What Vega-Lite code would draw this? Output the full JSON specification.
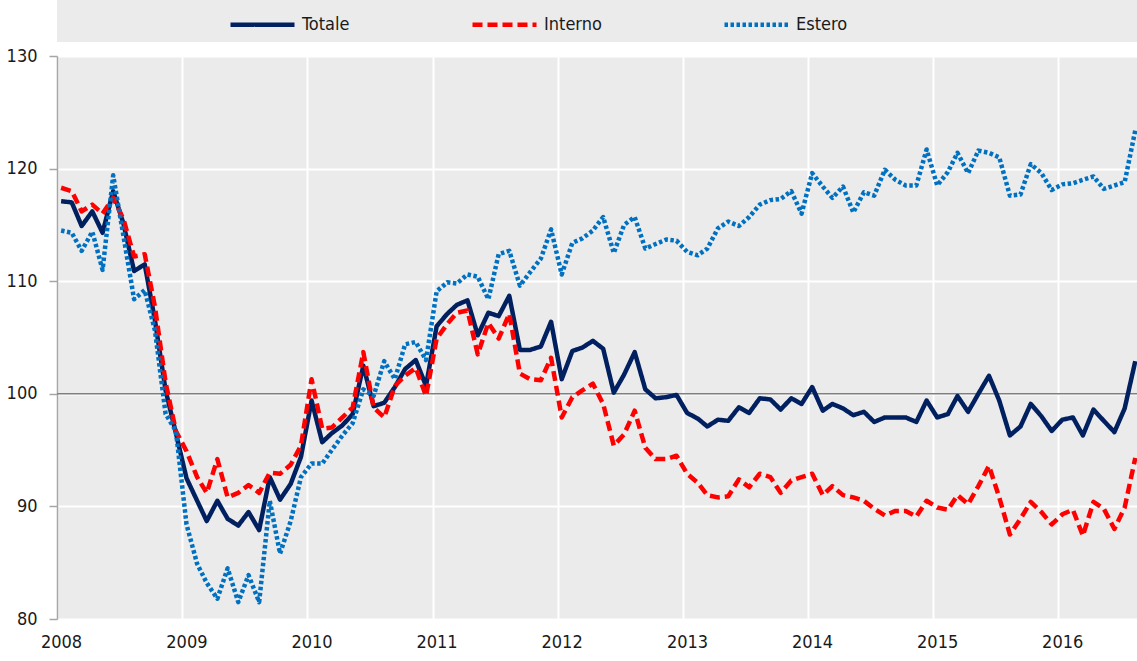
{
  "$schema": "https://vega.github.io/schema/vega-lite/v6.json",
  "width": 1080,
  "height": 563,
  "autosize": {"type": "none"},
  "padding": {"left": 57, "top": 56, "right": 0, "bottom": 42},
  "background": "white",
  "config": {
    "font": "DejaVu Sans Condensed, Liberation Sans, sans-serif",
    "view": {"fill": "#EBEBEB", "stroke": null},
    "axis": {"labelFont": "DejaVu Sans Condensed, Liberation Sans, sans-serif", "labelFontSize": 18, "labelColor": "#1a1a1a", "gridColor": "white", "gridWidth": 2, "title": null}
  },
  "layer": [
    {
      "data": {"values": [{"ref": "base"}]},
      "mark": {"type": "rule", "color": "#808080", "strokeWidth": 1.5},
      "encoding": {"y": {"datum": 100, "type": "quantitative", "scale": {"domain": [80, 130], "nice": false, "zero": false}}}
    },
    {
      "data": {"values": [
        {"date": "2008-01-13", "Totale": 117.1, "Interno": 118.3, "Estero": 114.5},
        {"date": "2008-02-13", "Totale": 117.0, "Interno": 118.0, "Estero": 114.3},
        {"date": "2008-03-13", "Totale": 114.9, "Interno": 116.2, "Estero": 112.7},
        {"date": "2008-04-13", "Totale": 116.2, "Interno": 116.8, "Estero": 114.4},
        {"date": "2008-05-13", "Totale": 114.3, "Interno": 116.0, "Estero": 111.0},
        {"date": "2008-06-13", "Totale": 118.0, "Interno": 117.4, "Estero": 119.4},
        {"date": "2008-07-13", "Totale": 115.1, "Interno": 115.5, "Estero": 114.0},
        {"date": "2008-08-13", "Totale": 110.9, "Interno": 112.2, "Estero": 108.4},
        {"date": "2008-09-13", "Totale": 111.5, "Interno": 112.4, "Estero": 109.2},
        {"date": "2008-10-13", "Totale": 106.5, "Interno": 107.7, "Estero": 105.6},
        {"date": "2008-11-13", "Totale": 100.3, "Interno": 101.0, "Estero": 98.2},
        {"date": "2008-12-13", "Totale": 96.5, "Interno": 96.7, "Estero": 96.7},
        {"date": "2009-01-13", "Totale": 92.5, "Interno": 94.9, "Estero": 88.4},
        {"date": "2009-02-13", "Totale": 90.5, "Interno": 92.6, "Estero": 84.9},
        {"date": "2009-03-13", "Totale": 88.7, "Interno": 91.2, "Estero": 83.2},
        {"date": "2009-04-13", "Totale": 90.5, "Interno": 94.2, "Estero": 81.8},
        {"date": "2009-05-13", "Totale": 88.9, "Interno": 90.8, "Estero": 84.5},
        {"date": "2009-06-13", "Totale": 88.3, "Interno": 91.2, "Estero": 81.5},
        {"date": "2009-07-13", "Totale": 89.5, "Interno": 91.9, "Estero": 83.9},
        {"date": "2009-08-13", "Totale": 87.9, "Interno": 91.2, "Estero": 81.5},
        {"date": "2009-09-13", "Totale": 92.6, "Interno": 93.0, "Estero": 90.5},
        {"date": "2009-10-13", "Totale": 90.6, "Interno": 92.9, "Estero": 85.8},
        {"date": "2009-11-13", "Totale": 92.0, "Interno": 93.7, "Estero": 88.7},
        {"date": "2009-12-13", "Totale": 94.4, "Interno": 95.4, "Estero": 92.6},
        {"date": "2010-01-13", "Totale": 99.4, "Interno": 101.3, "Estero": 93.8},
        {"date": "2010-02-13", "Totale": 95.7, "Interno": 96.9, "Estero": 93.8},
        {"date": "2010-03-13", "Totale": 96.5, "Interno": 97.0, "Estero": 95.0},
        {"date": "2010-04-13", "Totale": 97.2, "Interno": 97.9, "Estero": 96.3},
        {"date": "2010-05-13", "Totale": 98.2, "Interno": 98.8, "Estero": 97.4},
        {"date": "2010-06-13", "Totale": 102.5, "Interno": 103.7, "Estero": 100.4},
        {"date": "2010-07-13", "Totale": 98.9, "Interno": 98.8, "Estero": 99.8},
        {"date": "2010-08-13", "Totale": 99.2, "Interno": 97.9, "Estero": 102.9},
        {"date": "2010-09-13", "Totale": 100.6, "Interno": 100.7, "Estero": 101.3},
        {"date": "2010-10-13", "Totale": 102.2, "Interno": 101.6, "Estero": 104.4},
        {"date": "2010-11-13", "Totale": 103.0, "Interno": 102.3, "Estero": 104.6},
        {"date": "2010-12-13", "Totale": 100.7, "Interno": 99.8, "Estero": 103.0},
        {"date": "2011-01-13", "Totale": 106.0, "Interno": 104.9, "Estero": 109.1},
        {"date": "2011-02-13", "Totale": 107.1, "Interno": 106.2, "Estero": 109.9},
        {"date": "2011-03-13", "Totale": 107.9, "Interno": 107.2, "Estero": 109.8},
        {"date": "2011-04-13", "Totale": 108.3, "Interno": 107.4, "Estero": 110.6},
        {"date": "2011-05-13", "Totale": 105.2, "Interno": 103.5, "Estero": 110.4},
        {"date": "2011-06-13", "Totale": 107.2, "Interno": 106.3, "Estero": 108.4},
        {"date": "2011-07-13", "Totale": 106.9, "Interno": 104.9, "Estero": 112.4},
        {"date": "2011-08-13", "Totale": 108.7, "Interno": 107.1, "Estero": 112.7},
        {"date": "2011-09-13", "Totale": 103.9, "Interno": 101.8, "Estero": 109.6},
        {"date": "2011-10-13", "Totale": 103.9, "Interno": 101.3, "Estero": 110.8},
        {"date": "2011-11-13", "Totale": 104.2, "Interno": 101.2, "Estero": 112.0},
        {"date": "2011-12-13", "Totale": 106.4, "Interno": 103.2, "Estero": 114.6},
        {"date": "2012-01-13", "Totale": 101.3, "Interno": 97.9, "Estero": 110.6},
        {"date": "2012-02-13", "Totale": 103.8, "Interno": 99.7, "Estero": 113.4},
        {"date": "2012-03-13", "Totale": 104.1, "Interno": 100.3, "Estero": 113.8},
        {"date": "2012-04-13", "Totale": 104.7, "Interno": 100.9, "Estero": 114.5},
        {"date": "2012-05-13", "Totale": 104.0, "Interno": 99.1, "Estero": 115.7},
        {"date": "2012-06-13", "Totale": 100.1, "Interno": 95.4, "Estero": 112.5},
        {"date": "2012-07-13", "Totale": 101.7, "Interno": 96.4, "Estero": 115.0},
        {"date": "2012-08-13", "Totale": 103.7, "Interno": 98.5, "Estero": 115.7},
        {"date": "2012-09-13", "Totale": 100.4, "Interno": 95.2, "Estero": 112.9},
        {"date": "2012-10-13", "Totale": 99.6, "Interno": 94.2, "Estero": 113.3},
        {"date": "2012-11-13", "Totale": 99.7, "Interno": 94.2, "Estero": 113.7},
        {"date": "2012-12-13", "Totale": 99.9, "Interno": 94.5, "Estero": 113.6},
        {"date": "2013-01-13", "Totale": 98.3, "Interno": 92.9, "Estero": 112.6},
        {"date": "2013-02-13", "Totale": 97.8, "Interno": 92.1, "Estero": 112.3},
        {"date": "2013-03-13", "Totale": 97.1, "Interno": 91.0, "Estero": 112.9},
        {"date": "2013-04-13", "Totale": 97.7, "Interno": 90.8, "Estero": 114.7},
        {"date": "2013-05-13", "Totale": 97.6, "Interno": 90.9, "Estero": 115.3},
        {"date": "2013-06-13", "Totale": 98.8, "Interno": 92.4, "Estero": 114.9},
        {"date": "2013-07-13", "Totale": 98.3, "Interno": 91.7, "Estero": 115.7},
        {"date": "2013-08-13", "Totale": 99.6, "Interno": 92.9, "Estero": 116.8},
        {"date": "2013-09-13", "Totale": 99.5, "Interno": 92.6, "Estero": 117.2},
        {"date": "2013-10-13", "Totale": 98.6, "Interno": 91.2, "Estero": 117.3},
        {"date": "2013-11-13", "Totale": 99.6, "Interno": 92.3, "Estero": 118.0},
        {"date": "2013-12-13", "Totale": 99.1, "Interno": 92.6, "Estero": 116.0},
        {"date": "2014-01-13", "Totale": 100.6, "Interno": 92.9, "Estero": 119.6},
        {"date": "2014-02-13", "Totale": 98.5, "Interno": 91.0, "Estero": 118.4},
        {"date": "2014-03-13", "Totale": 99.1, "Interno": 91.8, "Estero": 117.4},
        {"date": "2014-04-13", "Totale": 98.7, "Interno": 91.0, "Estero": 118.4},
        {"date": "2014-05-13", "Totale": 98.1, "Interno": 90.8, "Estero": 116.1},
        {"date": "2014-06-13", "Totale": 98.4, "Interno": 90.5, "Estero": 117.9},
        {"date": "2014-07-13", "Totale": 97.5, "Interno": 89.8, "Estero": 117.6},
        {"date": "2014-08-13", "Totale": 97.9, "Interno": 89.2, "Estero": 119.9},
        {"date": "2014-09-13", "Totale": 97.9, "Interno": 89.6, "Estero": 119.0},
        {"date": "2014-10-13", "Totale": 97.9, "Interno": 89.6, "Estero": 118.5},
        {"date": "2014-11-13", "Totale": 97.5, "Interno": 89.1, "Estero": 118.5},
        {"date": "2014-12-13", "Totale": 99.4, "Interno": 90.5, "Estero": 121.7},
        {"date": "2015-01-13", "Totale": 97.9, "Interno": 89.9, "Estero": 118.5},
        {"date": "2015-02-13", "Totale": 98.2, "Interno": 89.7, "Estero": 119.7},
        {"date": "2015-03-13", "Totale": 99.8, "Interno": 91.0, "Estero": 121.4},
        {"date": "2015-04-13", "Totale": 98.4, "Interno": 90.2, "Estero": 119.6},
        {"date": "2015-05-13", "Totale": 100.0, "Interno": 91.8, "Estero": 121.6},
        {"date": "2015-06-13", "Totale": 101.6, "Interno": 93.6, "Estero": 121.4},
        {"date": "2015-07-13", "Totale": 99.4, "Interno": 90.8, "Estero": 121.0},
        {"date": "2015-08-13", "Totale": 96.3, "Interno": 87.5, "Estero": 117.6},
        {"date": "2015-09-13", "Totale": 97.1, "Interno": 88.9, "Estero": 117.7},
        {"date": "2015-10-13", "Totale": 99.1, "Interno": 90.4, "Estero": 120.4},
        {"date": "2015-11-13", "Totale": 98.0, "Interno": 89.5, "Estero": 119.6},
        {"date": "2015-12-13", "Totale": 96.7, "Interno": 88.4, "Estero": 118.1},
        {"date": "2016-01-13", "Totale": 97.7, "Interno": 89.3, "Estero": 118.6},
        {"date": "2016-02-13", "Totale": 97.9, "Interno": 89.7, "Estero": 118.7},
        {"date": "2016-03-13", "Totale": 96.3, "Interno": 87.4, "Estero": 119.0},
        {"date": "2016-04-13", "Totale": 98.6, "Interno": 90.4, "Estero": 119.3},
        {"date": "2016-05-13", "Totale": 97.6, "Interno": 89.8, "Estero": 118.2},
        {"date": "2016-06-13", "Totale": 96.6, "Interno": 88.0, "Estero": 118.5},
        {"date": "2016-07-13", "Totale": 98.7, "Interno": 89.9, "Estero": 118.8},
        {"date": "2016-08-13", "Totale": 102.9, "Interno": 94.3, "Estero": 123.4}
      ]},
      "transform": [{"fold": ["Totale", "Interno", "Estero"], "as": ["serie", "valore"]}],
      "mark": {"type": "line", "strokeWidth": 4.5, "strokeJoin": "round"},
      "encoding": {
        "x": {
          "field": "date", "type": "temporal",
          "scale": {"type": "utc", "domain": [{"year": 2008, "month": 1, "date": 1, "utc": true}, {"year": 2016, "month": 8, "date": 18, "utc": true}]},
          "axis": {
            "format": "%Y", "formatType": "utc",
            "values": [
              {"year": 2008, "month": 1, "date": 1, "utc": true},
              {"year": 2009, "month": 1, "date": 1, "utc": true},
              {"year": 2010, "month": 1, "date": 1, "utc": true},
              {"year": 2011, "month": 1, "date": 1, "utc": true},
              {"year": 2012, "month": 1, "date": 1, "utc": true},
              {"year": 2013, "month": 1, "date": 1, "utc": true},
              {"year": 2014, "month": 1, "date": 1, "utc": true},
              {"year": 2015, "month": 1, "date": 1, "utc": true},
              {"year": 2016, "month": 1, "date": 1, "utc": true}
            ],
            "grid": true, "ticks": false, "domain": false,
            "labelPadding": 14, "labelOffset": 4, "labelOverlap": false, "labelFlush": false
          }
        },
        "y": {
          "field": "valore", "type": "quantitative",
          "scale": {"domain": [80, 130], "nice": false, "zero": false},
          "axis": {
            "values": [80, 90, 100, 110, 120, 130],
            "grid": true, "domain": true, "domainColor": "#A6A6A6", "domainWidth": 1.5,
            "ticks": true, "tickColor": "#A6A6A6", "tickSize": 8, "tickWidth": 1.5,
            "labelPadding": 12
          }
        },
        "color": {
          "field": "serie", "type": "nominal",
          "scale": {"domain": ["Totale", "Interno", "Estero"], "range": ["#002060", "#FF0000", "#0070C0"]},
          "legend": {
            "orient": "top", "direction": "horizontal",
            "title": " ", "titleOrient": "left", "titlePadding": 163, "titleFontSize": 18,
            "fillColor": "#EBEBEB", "padding": 8, "offset": 14,
            "symbolType": "stroke", "symbolSize": 4096, "symbolStrokeWidth": 4.5,
            "labelFontSize": 18, "labelFont": "DejaVu Sans Condensed, Liberation Sans, sans-serif", "labelColor": "#1a1a1a",
            "labelLimit": 600, "labelOffset": 5, "columnPadding": 113,
            "labelExpr": "datum.label == 'Estero' ? pad('Estero', 62) + '\u200b' : datum.label"
          }
        },
        "strokeDash": {
          "field": "serie", "type": "nominal",
          "scale": {"domain": ["Totale", "Interno", "Estero"], "range": [[1, 0], [10, 5], [3.5, 2.5]]},
          "legend": {
            "orient": "top", "direction": "horizontal",
            "title": " ", "titleOrient": "left", "titlePadding": 163, "titleFontSize": 18,
            "fillColor": "#EBEBEB", "padding": 8, "offset": 14,
            "symbolType": "stroke", "symbolSize": 4096, "symbolStrokeWidth": 4.5,
            "labelFontSize": 18, "labelFont": "DejaVu Sans Condensed, Liberation Sans, sans-serif", "labelColor": "#1a1a1a",
            "labelLimit": 600, "labelOffset": 5, "columnPadding": 113,
            "labelExpr": "datum.label == 'Estero' ? pad('Estero', 62) + '\u200b' : datum.label"
          }
        }
      }
    }
  ]
}
